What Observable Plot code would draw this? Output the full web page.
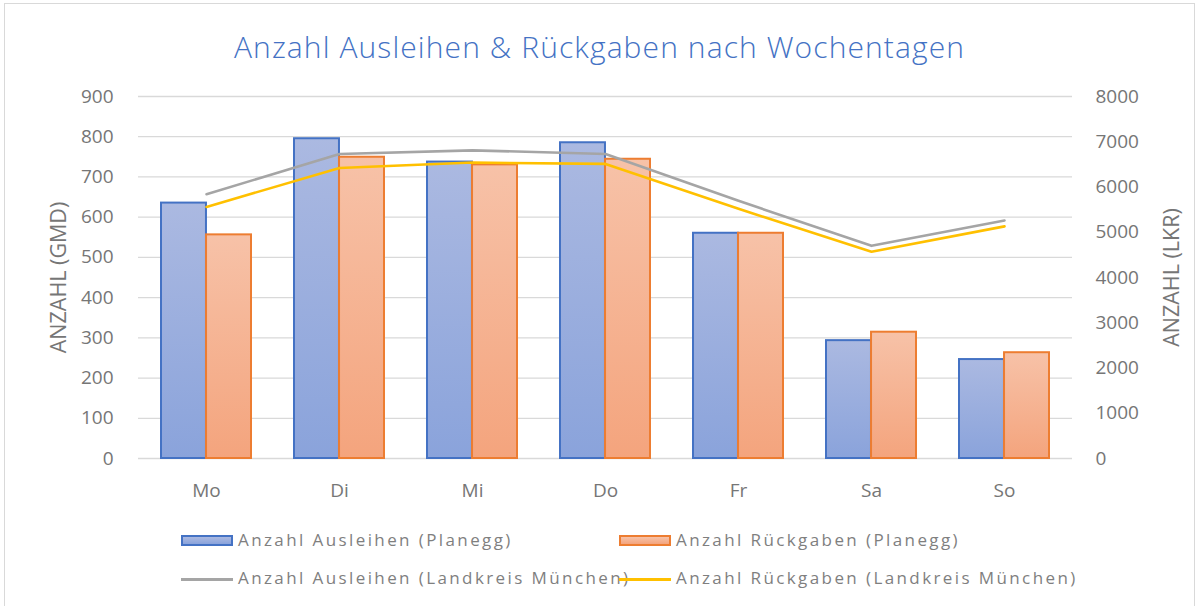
<!DOCTYPE html>
<html>
<head>
<meta charset="utf-8">
<script src="https://cdn.jsdelivr.net/npm/d3@7"></script>
<script src="https://cdn.jsdelivr.net/npm/@observablehq/plot@0.6"></script>
<style>
  body { margin: 0; background: #fff; }
  #wrap { position: relative; width: 1199px; height: 606px; overflow: hidden; font-family: "Open Sans", sans-serif; }
  #frame { position: absolute; left: 4px; top: 3px; width: 1191px; height: 620px; border: 1px solid #d9d9d9; box-sizing: border-box; }
  #title { position: absolute; left: 0; width: 1199px; top: 26px; text-align: center; color: #4472C4; font-size: 30px; font-weight: 300; font-family: "Open Sans", sans-serif; letter-spacing: 1.1px; }
  #chart { position: absolute; left: 0; top: 0; }
  .lg { position: absolute; font-size: 17px; color: #7f7f7f; letter-spacing: 2.4px; white-space: nowrap; font-family: "Open Sans", sans-serif; }
  .sw { position: absolute; }
</style>
</head>
<body>
<div id="wrap">
  <div id="frame"></div>
  <div id="chart"></div>
  <div id="title">Anzahl Ausleihen &amp; Rückgaben nach Wochentagen</div>
  <div id="legend"></div>
</div>
<script>
const days = ["Mo", "Di", "Mi", "Do", "Fr", "Sa", "So"];
const ausleihenPlanegg = [635, 795, 737, 785, 560, 293, 246];
const rueckgabenPlanegg = [556, 749, 730, 744, 560, 314, 263];
const ausleihenLandkreis = [5840, 6730, 6810, 6730, 5694, 4700, 5260];
const rueckgabenLandkreis = [5560, 6420, 6540, 6510, 5517, 4570, 5130];
const leftTicks = [0, 100, 200, 300, 400, 500, 600, 700, 800, 900];
const rightTicks = [0, 1000, 2000, 3000, 4000, 5000, 6000, 7000, 8000];
const seriesNames = [
  "Anzahl Ausleihen (Planegg)",
  "Anzahl Rückgaben (Planegg)",
  "Anzahl Ausleihen (Landkreis München)",
  "Anzahl Rückgaben (Landkreis München)"
];

const W = 1199, H = 510;
const mL = 138, mR = 127, mT = 96, mB = 52;
const pInner = 0.325, pOuter = 0.1625;
const step = (W - mL - mR) / (days.length - pInner + 2 * pOuter);
const bw = step * (1 - pInner);
const k = 900 / 8000; // right axis -> left axis

const rows = days.map((d, i) => ({
  day: d,
  a: ausleihenPlanegg[i],
  r: rueckgabenPlanegg[i],
  la: ausleihenLandkreis[i],
  lr: rueckgabenLandkreis[i]
}));

const defs = () => {
  const g = d3.create("svg:defs");
  const mk = (id, top, bottom) => {
    const lg = g.append("linearGradient").attr("id", id).attr("x1", 0).attr("y1", 0).attr("x2", 0).attr("y2", 1);
    lg.append("stop").attr("offset", "0%").attr("stop-color", top);
    lg.append("stop").attr("offset", "100%").attr("stop-color", bottom);
  };
  mk("gBlue", "#abb9e1", "#8aa3db");
  mk("gOrange", "#f7c2a8", "#f4a47d");
  return g.node();
};

const chart = Plot.plot({
  width: W, height: H,
  marginLeft: mL, marginRight: mR, marginTop: mT, marginBottom: mB,
  style: { fontFamily: "Open Sans, sans-serif", fontSize: "19px", color: "#767676", background: "transparent", overflow: "visible" },
  x: { domain: days, paddingInner: pInner, paddingOuter: pOuter, axis: null },
  y: { domain: [0, 900], axis: null },
  marks: [
    defs,
    Plot.gridY(leftTicks, { stroke: "#d9d9d9", strokeOpacity: 1, strokeWidth: 1.3 }),
    Plot.barY(rows, { x: "day", y: "a", fill: "url(#gBlue)", stroke: "#4472C4", strokeWidth: 2, insetRight: bw / 2 }),
    Plot.barY(rows, { x: "day", y: "r", fill: "url(#gOrange)", stroke: "#ED7D31", strokeWidth: 2, insetLeft: bw / 2 }),
    Plot.line(rows, { x: "day", y: d => d.la * k, stroke: "#A5A5A5", strokeWidth: 2.6, curve: "linear" }),
    Plot.line(rows, { x: "day", y: d => d.lr * k, stroke: "#FFC000", strokeWidth: 2.6, curve: "linear" }),
    Plot.axisX({ tickSize: 0, tickPadding: 25, fontSize: 19, label: null }),
    Plot.axisY(leftTicks, { anchor: "left", tickSize: 0, tickPadding: 25, fontSize: 19, label: "ANZAHL (GMD)", labelArrow: "none", labelAnchor: "center", labelOffset: 88 }),
    Plot.axisY(rightTicks.map(v => v * k), { anchor: "right", tickSize: 0, tickPadding: 23, fontSize: 19, tickFormat: v => String(Math.round(v / k)), label: "ANZAHL (LKR)", labelArrow: "none", labelAnchor: "center", labelOffset: 106 })
  ]
});
// strip any direction arrows from axis labels; enlarge axis titles
chart.querySelectorAll("text, tspan").forEach(t => {
  if (t.childNodes.length === 1 && t.firstChild.nodeType === 3) {
    t.firstChild.nodeValue = t.firstChild.nodeValue.replace(/\s*[→←↑↓]\s*/g, "");
  }
});
chart.querySelectorAll('[aria-label="y-axis label"]').forEach(g => {
  g.setAttribute("font-size", "21.5");
  g.querySelectorAll("text").forEach(t => t.setAttribute("font-size", "21.5"));
});
document.getElementById("chart").appendChild(chart);

// Legend (HTML, below the plot)
const legend = document.getElementById("legend");
const items = [
  { name: seriesNames[0], type: "bar", fill: "linear-gradient(#abb9e1,#8aa3db)", stroke: "#4472C4", x: 181, y: 541 },
  { name: seriesNames[1], type: "bar", fill: "linear-gradient(#f7c2a8,#f4a47d)", stroke: "#ED7D31", x: 619, y: 541 },
  { name: seriesNames[2], type: "line", stroke: "#A5A5A5", x: 181, y: 579 },
  { name: seriesNames[3], type: "line", stroke: "#FFC000", x: 619, y: 579 }
];
items.forEach(it => {
  const t = document.createElement("div");
  t.className = "lg";
  t.textContent = it.name;
  t.style.left = (it.x + 57) + "px";
  t.style.top = (it.y - 13) + "px";
  legend.appendChild(t);
});
items.forEach(it => {
  const s = document.createElement("div");
  s.className = "sw";
  s.style.left = it.x + "px";
  if (it.type === "bar") {
    s.style.top = (it.y - 6) + "px";
    s.style.width = "52px"; s.style.height = "11px";
    s.style.background = it.fill;
    s.style.border = "2px solid " + it.stroke;
    s.style.boxSizing = "border-box";
  } else {
    s.style.top = (it.y - 1.5) + "px";
    s.style.width = "52px"; s.style.height = "3px";
    s.style.background = it.stroke;
  }
  legend.appendChild(s);
});
</script>
</body>
</html>
